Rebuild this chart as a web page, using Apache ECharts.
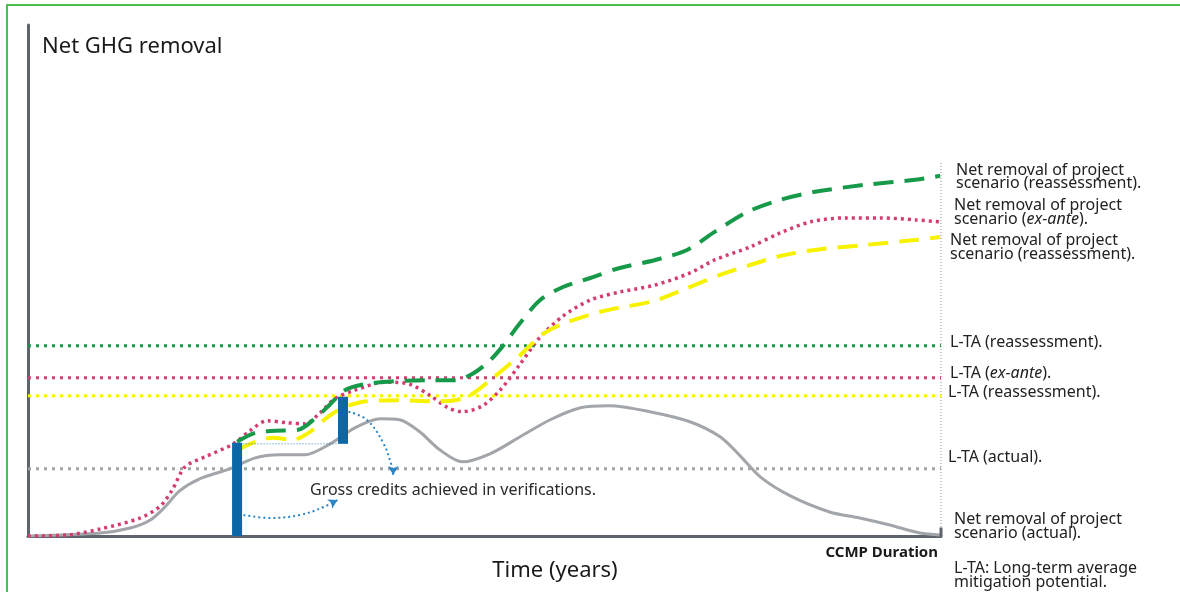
<!DOCTYPE html>
<html>
<head>
<meta charset="utf-8">
<script src="https://cdn.jsdelivr.net/npm/echarts@6/dist/echarts.min.js"></script>
<style>
  html, body { margin: 0; padding: 0; background: #fff; }
  #chart { width: 1180px; height: 592px; }
</style>
</head>
<body>
<div id="chart"></div>
<script>
// Time axis runs 0..100 (share of CCMP duration), removal axis 0..102 (relative units)

// Net removal of project scenario (actual)
const actualCurve = [
  [0, 0], [7.9, 0.6], [11.2, 1.6], [13.4, 3.2], [15.0, 5.8], [16.6, 9.0], [18.8, 11.4],
  [22.1, 13.4], [24.9, 15.6], [27.6, 16.2], [30.3, 16.2], [33.1, 18.4], [35.8, 21.6],
  [38.6, 23.4], [40.7, 23.2], [42.9, 20.8], [45.1, 17.2], [47.6, 14.8], [50.6, 16.4],
  [53.9, 19.8], [57.2, 23.2], [60.5, 25.6], [63.7, 26.0], [68.1, 24.8], [72.5, 22.8],
  [75.8, 19.8], [78.0, 16.0], [80.2, 11.8], [83.5, 8.0], [87.8, 4.8], [91.1, 3.6],
  [94.4, 2.2], [97.7, 0.6], [99.9, 0.2]
];

// Net removal of project scenario (ex-ante)
const exAnteCurve = [
  [0, 0], [4.3, 0.2], [7.9, 1.4], [12.3, 3.6], [14.5, 6.0], [15.8, 9.2], [17.2, 13.8],
  [19.4, 15.8], [22.5, 18.4], [24.3, 21.0], [26.2, 23.0], [28.4, 22.6], [30.3, 22.4],
  [32.0, 24.6], [33.6, 27.4], [35.8, 29.1], [39.1, 30.7], [41.8, 30.3], [44.0, 28.1],
  [45.9, 25.7], [47.5, 24.8], [49.7, 25.9], [51.7, 29.1], [53.9, 34.3], [56.1, 39.7],
  [58.6, 43.9], [61.6, 47.1], [64.8, 48.7], [68.7, 50.1], [72.5, 52.5], [75.2, 55.1],
  [79.1, 57.7], [82.4, 60.5], [85.7, 62.7], [89.5, 63.5], [93.3, 63.5], [97.2, 63.1],
  [99.9, 62.7]
];

// Net removal of project scenario (reassessment, upper)
const reassessUpperCurve = [
  [22.9, 18.8], [24.9, 20.6], [27.1, 21.0], [29.6, 21.2], [31.4, 23.4], [33.1, 26.3],
  [34.7, 29.1], [36.9, 30.3], [40.2, 30.9], [44.0, 31.1], [46.8, 31.1], [48.6, 32.3],
  [50.4, 34.7], [52.0, 37.9], [53.9, 42.5], [56.1, 47.1], [58.6, 49.7], [61.6, 51.5],
  [64.8, 53.5], [68.7, 55.1], [72.2, 57.1], [75.2, 60.7], [78.8, 64.7], [82.4, 67.1],
  [86.2, 68.7], [91.7, 70.1], [97.2, 71.1], [99.9, 71.9]
];

// Net removal of project scenario (reassessment, lower)
const reassessLowerCurve = [
  [22.9, 17.2], [24.9, 18.8], [26.8, 19.6], [29.0, 19.2], [30.9, 20.8], [32.7, 23.6],
  [34.5, 25.6], [37.1, 26.9], [40.7, 27.1], [44.4, 26.9], [46.8, 27.1], [48.6, 28.3],
  [50.9, 31.5], [53.9, 36.1], [56.4, 40.3], [58.8, 42.5], [63.0, 44.9], [68.5, 46.9],
  [72.2, 49.5], [75.8, 52.1], [79.1, 54.1], [82.4, 55.9], [86.2, 57.1], [91.7, 58.1],
  [97.2, 59.1], [99.9, 59.7]
];

// Long-term average mitigation potential levels
const ltaReassessUpper = 38.0;
const ltaExAnte = 31.6;
const ltaReassessLower = 28.0;
const ltaActual = 13.4;

// Gross credits achieved at verifications: [time, from, to]
const verificationBars = [
  [22.9, 0, 18.6],
  [34.5, 18.4, 27.8]
];

// Dotted guide between the two verification bars
const creditGuide = [[23.5, 18.4], [34.0, 18.4]];

// Callout arrows pointing to the annotation text
const arrowFromSecond = [[35.1, 24.8], [37.1, 23.2], [38.9, 18.6], [39.8, 14.2], [40.0, 12.2]];
const arrowFromFirst = [[23.6, 4.2], [26.5, 3.6], [29.8, 4.2], [32.4, 5.8], [33.9, 7.2]];

const timeEnd = 100;
const durationMarkerTop = 74.6;

const C = {
  green: '#17994a',
  pink: '#d43d6f',
  yellow: '#f7f200',
  gray: '#a2a5a9',
  grayDot: '#a3a3a3',
  blue: '#0c67a6',
  arrow: '#2b86c6',
  axis: '#5e646c',
  text: '#222222'
};

const FONT = '"Noto Sans", "Open Sans", sans-serif';
const SMOOTH = 0.3;

function hLine(level, color, dash, width) {
  return {
    type: 'line', data: [[0, level], [timeEnd, level]], symbol: 'none', silent: true,
    lineStyle: { color: color, width: width, type: dash }, z: 2
  };
}

function curve(data, color, width, dash, z) {
  return {
    type: 'line', data: data, smooth: SMOOTH, symbol: 'none', silent: true,
    lineStyle: { color: color, width: width, type: dash }, z: z
  };
}

function arrowSeries(points, rotate) {
  const data = points.map((p, i) => i === points.length - 1
    ? { value: p, symbol: 'arrow', symbolSize: [8, 9], symbolRotate: rotate }
    : { value: p, symbol: 'none' });
  return {
    type: 'line', data: data, smooth: 0.4, showSymbol: true, silent: true,
    itemStyle: { color: C.arrow },
    lineStyle: { color: C.arrow, width: 2, type: [2, 3] }, z: 6
  };
}

const chart = echarts.init(document.getElementById('chart'), null, { renderer: 'canvas' });

const labelStyle = (text, x, y, extra) => ({
  type: 'text', x: x, y: y, silent: true,
  style: Object.assign({
    text: text, fill: C.text, font: '16px ' + FONT, lineHeight: 13.5,
    verticalAlign: 'middle', align: 'left',
    rich: { i: { fontStyle: 'italic', fontSize: 16, fontFamily: FONT, fill: C.text } }
  }, extra || {})
});

chart.setOption({
  animation: false,
  backgroundColor: '#ffffff',
  grid: { left: 28, right: 239, top: 25, bottom: 56 },
  xAxis: {
    type: 'value', min: 0, max: timeEnd,
    axisLine: { show: true, onZero: false, lineStyle: { color: C.axis, width: 3 } },
    axisTick: { show: false }, axisLabel: { show: false }, splitLine: { show: false }
  },
  yAxis: {
    type: 'value', min: 0, max: 102,
    axisLine: { show: true, onZero: false, lineStyle: { color: C.axis, width: 3 } },
    axisTick: { show: false }, axisLabel: { show: false }, splitLine: { show: false }
  },
  series: [
    // CCMP duration end marker
    {
      type: 'line', data: [[timeEnd, 0], [timeEnd, durationMarkerTop]], symbol: 'none', silent: true,
      lineStyle: { color: '#8d9095', width: 1, type: [1, 2] }, z: 1
    },
    {
      type: 'line', data: [[timeEnd, 0], [timeEnd, 1.7]], symbol: 'none', silent: true,
      lineStyle: { color: C.axis, width: 3 }, z: 7
    },
    hLine(ltaReassessUpper, C.green, [3, 5], 3),
    hLine(ltaExAnte, C.pink, [3, 5], 3),
    hLine(ltaReassessLower, C.yellow, [3, 5], 3),
    hLine(ltaActual, C.grayDot, [3, 5], 3),
    curve(actualCurve, C.gray, 3, 'solid', 3),
    curve(exAnteCurve, C.pink, 3.5, [3, 4], 4),
    curve(reassessLowerCurve, C.yellow, 4, [20, 11], 4),
    curve(reassessUpperCurve, C.green, 4, [20, 11], 4),
    {
      type: 'custom', data: verificationBars, silent: true, z: 5,
      renderItem: function (params, api) {
        const lo = api.coord([api.value(0), api.value(1)]);
        const hi = api.coord([api.value(0), api.value(2)]);
        const w = 10;
        return {
          type: 'rect',
          shape: { x: lo[0] - w / 2, y: hi[1], width: w, height: lo[1] - hi[1] },
          style: { fill: C.blue }
        };
      },
      encode: { x: 0, y: [1, 2] }
    },
    {
      type: 'line', data: creditGuide, symbol: 'none', silent: true,
      lineStyle: { color: C.arrow, width: 1, type: [1, 2] }, z: 5
    },
    arrowSeries(arrowFromSecond, 180),
    arrowSeries(arrowFromFirst, -62)
  ],
  graphic: [
    {
      type: 'rect', silent: true, z: 0,
      shape: { x: 7, y: 5, width: 1200, height: 620 },
      style: { fill: null, stroke: '#4cbf4f', lineWidth: 2 }
    },
    labelStyle('Net GHG removal', 42, 47, { font: '22px ' + FONT, fill: '#1a1a1a' }),
    labelStyle('Time (years)', 555, 571, { font: '22px ' + FONT, fill: '#1a1a1a', align: 'center' }),
    labelStyle('CCMP Duration', 938, 553, { font: 'bold 15px ' + FONT, fill: '#1a1a1a', align: 'right' }),
    labelStyle('Gross credits achieved in verifications.', 310, 490, { font: '16px ' + FONT, fill: '#2a2a2a' }),
    labelStyle('Net removal of project\nscenario (reassessment).', 956, 177),
    labelStyle('Net removal of project\nscenario ({i|ex-ante}).', 954, 212.5),
    labelStyle('Net removal of project\nscenario (reassessment).', 950, 247.5),
    labelStyle('L-TA (reassessment).', 950, 342),
    labelStyle('L-TA ({i|ex-ante}).', 950, 373),
    labelStyle('L-TA (reassessment).', 948, 392),
    labelStyle('L-TA (actual).', 948, 457),
    labelStyle('Net removal of project\nscenario (actual).', 954, 526.5),
    labelStyle('L-TA: Long-term average\nmitigation potential.', 954, 575.5)
  ]
});
</script>
</body>
</html>
